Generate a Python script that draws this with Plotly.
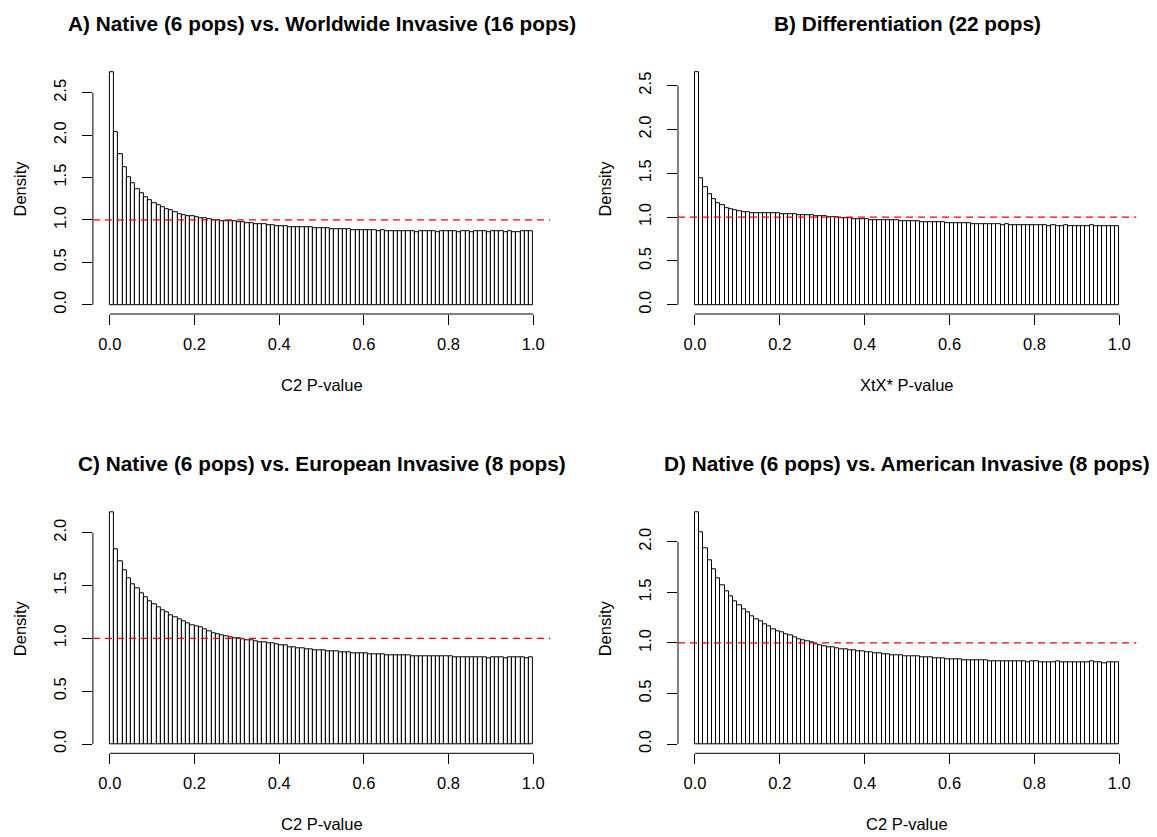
import numpy as np
import plotly.graph_objects as go

# Histogram densities (100 bins of width 0.01 over [0, 1])
native_vs_worldwide = [
    2.74, 2.03, 1.78, 1.62, 1.50, 1.43, 1.36, 1.31, 1.27, 1.23,
    1.20, 1.17, 1.15, 1.13, 1.11, 1.09, 1.07, 1.06, 1.05, 1.04,
    1.03, 1.02, 1.02, 1.01, 1.00, 1.00, 0.99, 0.99, 0.98, 0.98,
    0.97, 0.97, 0.96, 0.96, 0.95, 0.95, 0.95, 0.94, 0.94, 0.93,
    0.93, 0.93, 0.92, 0.92, 0.92, 0.91, 0.91, 0.91, 0.90, 0.90,
    0.90, 0.90, 0.89, 0.89, 0.89, 0.89, 0.89, 0.88, 0.88, 0.88,
    0.88, 0.88, 0.88, 0.87, 0.88, 0.87, 0.87, 0.87, 0.87, 0.87,
    0.87, 0.87, 0.86, 0.87, 0.87, 0.87, 0.87, 0.86, 0.87, 0.87,
    0.87, 0.87, 0.86, 0.87, 0.87, 0.86, 0.87, 0.87, 0.87, 0.86,
    0.87, 0.87, 0.87, 0.86, 0.87, 0.86, 0.86, 0.87, 0.87, 0.87,
]
differentiation = [
    2.65, 1.44, 1.34, 1.26, 1.20, 1.16, 1.13, 1.10, 1.09, 1.08,
    1.07, 1.06, 1.06, 1.05, 1.05, 1.05, 1.04, 1.04, 1.04, 1.04,
    1.03, 1.03, 1.03, 1.03, 1.02, 1.02, 1.02, 1.02, 1.01, 1.01,
    1.01, 1.00, 1.00, 1.00, 0.99, 0.99, 0.99, 0.98, 0.98, 0.98,
    0.98, 0.97, 0.97, 0.97, 0.96, 0.96, 0.96, 0.96, 0.95, 0.95,
    0.95, 0.95, 0.95, 0.94, 0.94, 0.94, 0.94, 0.94, 0.94, 0.93,
    0.93, 0.93, 0.93, 0.93, 0.93, 0.92, 0.92, 0.92, 0.92, 0.92,
    0.92, 0.92, 0.91, 0.92, 0.91, 0.91, 0.91, 0.91, 0.91, 0.91,
    0.91, 0.91, 0.91, 0.90, 0.91, 0.90, 0.90, 0.91, 0.90, 0.90,
    0.90, 0.90, 0.90, 0.91, 0.90, 0.90, 0.90, 0.90, 0.90, 0.90,
]
native_vs_european = [
    2.19, 1.84, 1.73, 1.64, 1.57, 1.51, 1.47, 1.43, 1.39, 1.35,
    1.32, 1.29, 1.27, 1.25, 1.22, 1.20, 1.18, 1.16, 1.14, 1.12,
    1.11, 1.10, 1.09, 1.07, 1.05, 1.04, 1.03, 1.02, 1.01, 1.00,
    1.00, 0.99, 0.98, 0.98, 0.97, 0.96, 0.96, 0.95, 0.95, 0.94,
    0.93, 0.93, 0.92, 0.92, 0.91, 0.91, 0.90, 0.90, 0.89, 0.89,
    0.89, 0.88, 0.88, 0.88, 0.87, 0.87, 0.87, 0.86, 0.86, 0.86,
    0.86, 0.85, 0.85, 0.85, 0.85, 0.84, 0.84, 0.84, 0.84, 0.84,
    0.84, 0.83, 0.83, 0.83, 0.83, 0.83, 0.83, 0.83, 0.83, 0.83,
    0.83, 0.82, 0.82, 0.82, 0.82, 0.82, 0.82, 0.82, 0.82, 0.81,
    0.82, 0.82, 0.82, 0.81, 0.82, 0.82, 0.82, 0.82, 0.81, 0.82,
]
native_vs_american = [
    2.29, 2.09, 1.94, 1.82, 1.73, 1.64, 1.57, 1.51, 1.46, 1.41,
    1.37, 1.33, 1.30, 1.26, 1.23, 1.21, 1.18, 1.16, 1.14, 1.12,
    1.11, 1.09, 1.08, 1.06, 1.04, 1.03, 1.02, 1.01, 0.99, 0.98,
    0.97, 0.96, 0.96, 0.95, 0.94, 0.94, 0.93, 0.93, 0.92, 0.92,
    0.91, 0.91, 0.90, 0.90, 0.89, 0.89, 0.88, 0.88, 0.88, 0.87,
    0.87, 0.87, 0.87, 0.86, 0.86, 0.86, 0.85, 0.85, 0.85, 0.84,
    0.84, 0.84, 0.84, 0.83, 0.83, 0.83, 0.83, 0.83, 0.83, 0.82,
    0.82, 0.82, 0.82, 0.82, 0.82, 0.82, 0.82, 0.82, 0.81, 0.82,
    0.82, 0.81, 0.81, 0.81, 0.81, 0.82, 0.81, 0.81, 0.81, 0.81,
    0.81, 0.81, 0.81, 0.82, 0.81, 0.81, 0.80, 0.81, 0.81, 0.81,
]

titles = [
    "A) Native (6 pops) vs. Worldwide Invasive (16 pops)",
    "B) Differentiation (22 pops)",
    "C) Native (6 pops) vs. European Invasive (8 pops)",
    "D) Native (6 pops) vs. American Invasive (8 pops)",
]
x_labels = ["C2 P-value", "XtX* P-value", "C2 P-value", "C2 P-value"]
y_label = "Density"
x_ticks = [0.0, 0.2, 0.4, 0.6, 0.8, 1.0]
y_ticks_top = [0.0, 0.5, 1.0, 1.5, 2.0, 2.5]
y_ticks_bottom = [0.0, 0.5, 1.0, 1.5, 2.0]

series = [native_vs_worldwide, differentiation, native_vs_european, native_vs_american]
y_ticks = [y_ticks_top, y_ticks_top, y_ticks_bottom, y_ticks_bottom]

W, H = 1157, 837
FONT = "Liberation Sans, Arial, Helvetica, sans-serif"

# plot regions in pixels: (left, right, top, bottom)
regions = [
    (92.9, 550.2, 63.2, 314.0),
    (678.0, 1136.3, 63.2, 314.0),
    (92.9, 550.2, 503.3, 753.3),
    (678.0, 1136.3, 503.3, 753.3),
]

def px_x(v):
    return v / W

def px_y(v):
    return 1 - v / H

bin_edges = np.linspace(0.0, 1.0, 101)
bin_mids = (bin_edges[:-1] + bin_edges[1:]) / 2
bin_width = bin_edges[1] - bin_edges[0]

fig = go.Figure()
annotations = []
shapes = []

for i, (vals, ticks) in enumerate(zip(series, y_ticks)):
    n = i + 1
    xa = "x" if n == 1 else f"x{n}"
    ya = "y" if n == 1 else f"y{n}"
    left, right, top, bottom = regions[i]
    ymax = max(vals)

    fig.add_trace(go.Bar(
        x=bin_mids, y=vals, width=bin_width,
        marker=dict(color="white", line=dict(color="black", width=1)),
        xaxis=xa, yaxis=ya, showlegend=False, hoverinfo="x+y",
    ))

    axis_common = dict(
        showgrid=False, zeroline=False, showline=False,
        ticks="outside", ticklen=10, tickwidth=1, tickcolor="black",
        tickfont=dict(family=FONT, size=16.5, color="black"),
    )
    fig.update_layout(**{
        ("xaxis" if n == 1 else f"xaxis{n}"): dict(
            domain=[px_x(left), px_x(right)],
            anchor=ya, range=[-0.04, 1.04],
            tickvals=x_ticks, ticktext=[f"{t:.1f}" for t in x_ticks],
            ticklabelstandoff=5,
            **axis_common,
        ),
        ("yaxis" if n == 1 else f"yaxis{n}"): dict(
            domain=[px_y(bottom), px_y(top)],
            anchor=xa, range=[-0.04 * ymax, 1.04 * ymax],
            tickvals=ticks, ticktext=[f"{t:.1f}" for t in ticks],
            tickangle=-90, ticklabelstandoff=9,
            **axis_common,
        ),
    })

    # axis lines spanning first to last tick
    shapes.append(dict(type="line", xref=xa, yref=f"{ya} domain",
                       x0=x_ticks[0], x1=x_ticks[-1], y0=0, y1=0,
                       line=dict(color="black", width=1)))
    shapes.append(dict(type="line", xref=f"{xa} domain", yref=ya,
                       x0=0, x1=0, y0=ticks[0], y1=ticks[-1],
                       line=dict(color="black", width=1)))
    # uniform reference density
    shapes.append(dict(type="line", xref=f"{xa} domain", yref=ya,
                       x0=0, x1=1, y0=1, y1=1,
                       line=dict(color="#ff0000", width=1.2, dash="7px,5px")))

    cx = (left + right) / 2
    cy = (top + bottom) / 2
    annotations.append(dict(
        text=f"<b>{titles[i]}</b>", x=px_x(cx), y=px_y(top - 40),
        xref="paper", yref="paper", showarrow=False,
        xanchor="center", yanchor="middle",
        font=dict(family=FONT, size=20.8, color="black"),
    ))
    annotations.append(dict(
        text=x_labels[i], x=px_x(cx), y=px_y(bottom + 71),
        xref="paper", yref="paper", showarrow=False,
        xanchor="center", yanchor="middle",
        font=dict(family=FONT, size=16.5, color="black"),
    ))
    annotations.append(dict(
        text=y_label, x=px_x(left - 73), y=px_y(cy),
        xref="paper", yref="paper", showarrow=False, textangle=-90,
        xanchor="center", yanchor="middle",
        font=dict(family=FONT, size=16.5, color="black"),
    ))

fig.update_layout(
    width=W, height=H,
    margin=dict(l=0, r=0, t=0, b=0),
    paper_bgcolor="white", plot_bgcolor="white",
    bargap=0, shapes=shapes, annotations=annotations,
    showlegend=False,
)

fig.write_html("out.html")
